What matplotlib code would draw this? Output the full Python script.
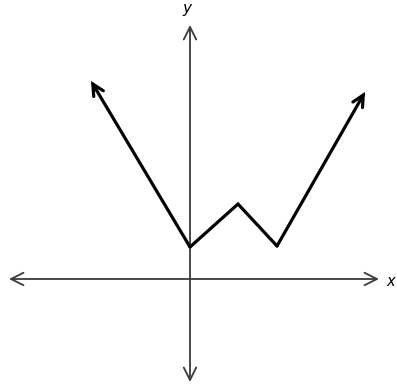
import matplotlib
matplotlib.use("Agg")
import matplotlib.pyplot as plt

# graph vertices (arbitrary units), first and last have arrowheads
xs = [-9.9, 0.0, 4.8, 8.7, 17.5]
ys = [19.8, 3.2, 7.5, 3.3, 18.7]

# axes extents (arrow tips)
x_axis = [-18.1, 18.9]
y_axis = [-10.3, 25.4]

fig = plt.figure(figsize=(3.97, 3.85), dpi=100)
ax = fig.add_axes([0, 0, 1, 1])
ax.set_xlim(-19.0, 20.7)
ax.set_ylim(-10.6, 27.9)
ax.axis('off')

axis_col = '#3a3a3a'
ap_axis = dict(arrowstyle='<->,head_length=0.9,head_width=0.45', lw=1.3,
               color=axis_col, shrinkA=0, shrinkB=0)
ax.annotate('', xy=(x_axis[1], 0), xytext=(x_axis[0], 0), arrowprops=ap_axis)
ax.annotate('', xy=(0, y_axis[1]), xytext=(0, y_axis[0]), arrowprops=ap_axis)

ax.text(20.1, -0.2, 'x', style='italic', fontsize=10.5, va='center', ha='center')
ax.text(-0.3, y_axis[1] + 0.9, 'y', style='italic', fontsize=11, va='bottom', ha='center')

ax.plot(xs[1:-1], ys[1:-1], color='black', lw=2.3, solid_joinstyle='miter',
        solid_capstyle='round')
ap_g = dict(arrowstyle='->,head_length=0.8,head_width=0.4', lw=2.3,
            color='black', shrinkA=0, shrinkB=0, joinstyle='miter')
ax.annotate('', xy=(xs[0], ys[0]), xytext=(xs[1], ys[1]), arrowprops=ap_g)
ax.annotate('', xy=(xs[-1], ys[-1]), xytext=(xs[-2], ys[-2]), arrowprops=ap_g)

fig.savefig('out.png', dpi=100)
